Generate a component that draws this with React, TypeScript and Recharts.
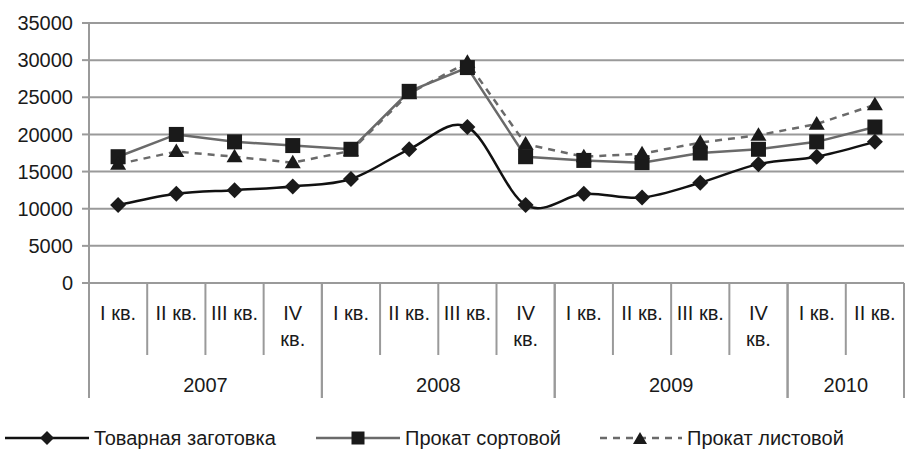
import { LineChart, Line, XAxis, YAxis, CartesianGrid, Legend } from "recharts";

const quarters = [
  "I кв.", "II кв.", "III кв.", "IV\nкв.",
  "I кв.", "II кв.", "III кв.", "IV\nкв.",
  "I кв.", "II кв.", "III кв.", "IV\nкв.",
  "I кв.", "II кв.",
];
const years = [
  "2007", "2007", "2007", "2007",
  "2008", "2008", "2008", "2008",
  "2009", "2009", "2009", "2009",
  "2010", "2010",
];
const zagotovka = [10500, 12000, 12500, 13000, 14000, 18000, 21000, 10500, 12000, 11500, 13500, 16000, 17000, 19000];
const sortovoy = [17000, 20000, 19000, 18500, 18000, 25800, 29000, 17000, 16500, 16200, 17500, 18000, 19000, 21000];
const listovoy = [16000, 17700, 17000, 16200, 17800, 25500, 29700, 18700, 17000, 17400, 18900, 19900, 21400, 24000];
const yTicks = [0, 5000, 10000, 15000, 20000, 25000, 30000, 35000];
const seriesNames = ["Товарная заготовка", "Прокат сортовой", "Прокат листовой"];

const W = 905;
const H = 450;
const Y_W = 89;
const RIGHT = 1;
const BAND = (W - Y_W - RIGHT) / quarters.length;
const FONT = "'Liberation Sans', Arial, sans-serif";
const GRID = "#9a9a9a";
const TEXT = "#1a1a1a";

const data = quarters.map((q, i) => ({
  key: `${years[i]} ${q}`,
  zag: zagotovka[i],
  sort: sortovoy[i],
  list: listovoy[i],
}));

// Excel-like smoothed line (Catmull-Rom through the points)
function smoothCurve(context: any) {
  let pts: [number, number][] = [];
  return {
    areaStart() {},
    areaEnd() {},
    lineStart() {
      pts = [];
    },
    point(x: number, y: number) {
      pts.push([+x, +y]);
    },
    lineEnd() {
      const n = pts.length;
      if (!n) return;
      context.moveTo(pts[0][0], pts[0][1]);
      for (let i = 0; i < n - 1; i++) {
        const p0 = pts[Math.max(i - 1, 0)];
        const p1 = pts[i];
        const p2 = pts[i + 1];
        const p3 = pts[Math.min(i + 2, n - 1)];
        context.bezierCurveTo(
          p1[0] + (p2[0] - p0[0]) / 6, p1[1] + (p2[1] - p0[1]) / 6,
          p2[0] - (p3[0] - p1[0]) / 6, p2[1] - (p3[1] - p1[1]) / 6,
          p2[0], p2[1]
        );
      }
    },
  };
}

function Diamond({ cx, cy, r = 8 }: { cx: number; cy: number; r?: number }) {
  return <polygon points={`${cx},${cy - r} ${cx + r},${cy} ${cx},${cy + r} ${cx - r},${cy}`} fill="#1a1a1a" />;
}
function Square({ cx, cy, r = 7.5 }: { cx: number; cy: number; r?: number }) {
  return <rect x={cx - r} y={cy - r} width={2 * r} height={2 * r} fill="#1a1a1a" />;
}
function Triangle({ cx, cy, r = 8 }: { cx: number; cy: number; r?: number }) {
  return <polygon points={`${cx},${cy - r} ${cx + r},${cy + r * 0.7} ${cx - r},${cy + r * 0.7}`} fill="#1a1a1a" />;
}

function QuarterTick(props: any) {
  const { x, y, payload } = props;
  const i = payload.index;
  const lines = quarters[i].split("\n");
  const left = x - BAND / 2;
  const first = i === 0 || years[i] !== years[i - 1];
  const last = i === quarters.length - 1 || years[i + 1] !== years[i];
  const count = years.filter((v) => v === years[i]).length;
  return (
    <g>
      <line x1={left} x2={left} y1={y} y2={y + (first ? 115 : 72)} stroke={GRID} strokeWidth={2} />
      {last && (
        <line x1={x + BAND / 2} x2={x + BAND / 2} y1={y} y2={y + 115} stroke={GRID} strokeWidth={2} />
      )}
      {lines.map((t, k) => (
        <text key={k} x={x} y={y + 30 + k * 26} textAnchor="middle" dominantBaseline="central"
          fontSize={20} fontFamily={FONT} fill={TEXT}>
          {t}
        </text>
      ))}
      {first && (
        <text x={left + (count * BAND) / 2} y={y + 102} textAnchor="middle" dominantBaseline="central"
          fontSize={20} fontFamily={FONT} fill={TEXT}>
          {years[i]}
        </text>
      )}
    </g>
  );
}

function LegendIcon({ n }: { n: number }) {
  return (
    <svg width={84} height={24} style={{ display: "block" }}>
      {n === 0 && <line x1={0} x2={84} y1={12} y2={12} stroke="#111" strokeWidth={2.5} />}
      {n === 1 && <line x1={0} x2={84} y1={12} y2={12} stroke="#6a6a6a" strokeWidth={2.5} />}
      {n === 2 && <line x1={2} x2={84} y1={12} y2={12} stroke="#6a6a6a" strokeWidth={2.5} strokeDasharray="7 6" />}
      {n === 0 && <Diamond cx={42} cy={12} r={7} />}
      {n === 1 && <Square cx={42} cy={12} r={6.5} />}
      {n === 2 && <Triangle cx={42} cy={13} r={7} />}
    </svg>
  );
}

function renderLegend() {
  const widths = [311, 282, 300];
  return (
    <div style={{ display: "flex", alignItems: "center", height: 24, paddingLeft: 5, fontFamily: FONT, fontSize: 20, color: TEXT }}>
      {seriesNames.map((name, n) => (
        <div key={name} style={{ display: "flex", alignItems: "center", width: widths[n] }}>
          <LegendIcon n={n} />
          <span style={{ marginLeft: 5, whiteSpace: "nowrap" }}>{name}</span>
        </div>
      ))}
    </div>
  );
}

export default function App() {
  return (
    <div style={{ position: "absolute", left: 0, top: 0, width: W, height: H, background: "#fff" }}>
      <LineChart width={W} height={H} data={data} margin={{ top: 23, right: RIGHT, bottom: 0, left: 0 }}>
        <CartesianGrid vertical={false} stroke={GRID} strokeWidth={2} />
        <XAxis
          dataKey="key"
          interval={0}
          height={143}
          tickSize={0}
          tickMargin={0}
          tickLine={false}
          padding={{ left: BAND / 2, right: BAND / 2 }}
          axisLine={{ stroke: GRID, strokeWidth: 2 }}
          tick={<QuarterTick />}
        />
        <YAxis
          width={Y_W}
          domain={[0, 35000]}
          ticks={yTicks}
          tickSize={7}
          tickMargin={9}
          tickLine={{ stroke: GRID, strokeWidth: 2 }}
          axisLine={{ stroke: GRID, strokeWidth: 2 }}
          tick={{ fontSize: 20, fontFamily: FONT, fill: TEXT }}
        />
        <Legend verticalAlign="bottom" align="left" wrapperStyle={{ left: 0, bottom: 0 }} content={renderLegend} />
        <Line
          dataKey="zag"
          name={seriesNames[0]}
          type={smoothCurve as any}
          stroke="#111"
          strokeWidth={2.5}
          isAnimationActive={false}
          activeDot={false}
          dot={(p: any) => <Diamond key={`z${p.index}`} cx={p.cx} cy={p.cy} />}
        />
        <Line
          dataKey="sort"
          name={seriesNames[1]}
          type="linear"
          stroke="#6a6a6a"
          strokeWidth={2.5}
          isAnimationActive={false}
          activeDot={false}
          dot={(p: any) => <Square key={`s${p.index}`} cx={p.cx} cy={p.cy} />}
        />
        <Line
          dataKey="list"
          name={seriesNames[2]}
          type="linear"
          stroke="#6a6a6a"
          strokeWidth={2.5}
          strokeDasharray="7 6"
          isAnimationActive={false}
          activeDot={false}
          dot={(p: any) => <Triangle key={`l${p.index}`} cx={p.cx} cy={p.cy} />}
        />
      </LineChart>
    </div>
  );
}
